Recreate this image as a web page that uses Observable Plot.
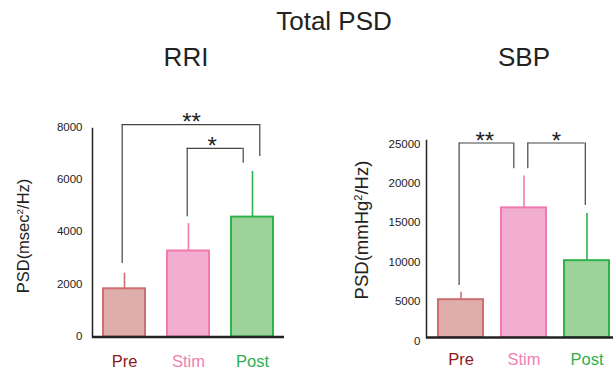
<!DOCTYPE html>
<html><head><meta charset="utf-8">
<script src="https://cdn.jsdelivr.net/npm/d3@7"></script>
<script src="https://cdn.jsdelivr.net/npm/@observablehq/plot@0.6"></script>
<style>
html,body{margin:0;padding:0;background:#fff;overflow:hidden;}
#wrap{position:relative;width:613px;height:369px;overflow:hidden;font-family:"Liberation Sans",Arial,sans-serif;color:#222;}
#wrap svg{max-width:none !important;}
.t{position:absolute;font-size:26px;line-height:26px;white-space:nowrap;transform:translateX(-50%);}
.yl{position:absolute;white-space:nowrap;line-height:1;transform:translate(-50%,-50%) rotate(-90deg);}
.yl sup{font-size:0.6em;vertical-align:0.55em;line-height:0;}
.p{position:absolute;top:0;}
</style></head><body>
<div id="wrap">
  <div class="t" style="left:334px;top:8px">Total PSD</div>
  <div class="t" style="left:186px;top:44px">RRI</div>
  <div class="t" style="left:524px;top:44px">SBP</div>
  <div class="yl" style="left:23px;top:236px;font-size:16.5px">PSD(msec<sup>2</sup>/Hz)</div>
  <div class="yl" style="left:362px;top:230px;font-size:18.5px">PSD(mmHg<sup>2</sup>/Hz)</div>
  <div class="p" id="left" style="left:0px;width:300px"></div>
  <div class="p" id="right" style="left:300px;width:321px"></div>
</div>
<script>
const categories = ["Pre", "Stim", "Post"];
const rriMean = [1850, 3300, 4600];
const rriErrTop = [2450, 4350, 6350];
const sbpMean = [4800, 16450, 9750];
const sbpErrTop = [5750, 20500, 15750];
const rriTicks = [0, 2000, 4000, 6000, 8000];
const sbpTicks = [0, 5000, 10000, 15000, 20000, 25000];
const rriBrackets = [
  {from: "Pre", to: "Post", top: 8150, fromLow: 2820, toLow: 6930, label: "**"},
  {from: "Stim", to: "Post", top: 7240, fromLow: 4615, toLow: 6665, label: "*"}
];
const sbpBrackets = [
  {from: "Pre", to: "Stim", top: 24680, fromLow: 6600, toLow: 21410, label: "**"},
  {from: "Stim", to: "Post", top: 24680, fromLow: 21410, toLow: 16750, label: "*"}
];

const barFill = ["#e0aeaa", "#f2aed0", "#9dd29b"];
const barStroke = ["#cd6f6f", "#f07aad", "#2fb24b"];
const labelColor = ["#8b1a1a", "#f07fb5", "#2eb04f"];

function rowsOf(mean, err) {
  return categories.map((c, i) => ({cat: c, mean: mean[i], err: err[i], fill: barFill[i], stroke: barStroke[i], lab: labelColor[i]}));
}

function bracketMarks(b, g) {
  const st = {stroke: "#444", strokeWidth: 1.2};
  return [
    Plot.ruleX([b], {x: "from", y1: "fromLow", y2: "top", dx: g.dxFrom, ...st}),
    Plot.ruleX([b], {x: "to", y1: "toLow", y2: "top", dx: g.dxTo, ...st}),
    Plot.ruleY([b], {y: "top", x1: "from", x2: "to", insetLeft: g.insetLeft, insetRight: g.insetRight, ...st}),
    Plot.text([b], {x: "to", y: "top", text: "label", dx: g.dxStar, dy: -2, fontSize: 24, fill: "#222"})
  ];
}

function panel(rows, ticks, brackets, geo, opt) {
  return Plot.plot({
    width: opt.width,
    height: 369,
    marginLeft: opt.marginLeft,
    marginRight: opt.marginRight,
    marginTop: opt.marginTop,
    marginBottom: opt.marginBottom,
    style: {fontFamily: "'Liberation Sans', Arial, sans-serif", background: "transparent", overflow: "visible", maxWidth: "none"},
    x: {domain: categories, paddingInner: opt.pIn, paddingOuter: opt.pOut, axis: null},
    y: {domain: [0, ticks[ticks.length - 1]]},
    color: {type: "identity"},
    marks: [
      Plot.barY(rows, {x: "cat", y: "mean", fill: "fill", stroke: "stroke", strokeWidth: 2}),
      Plot.ruleX(rows, {x: "cat", y1: "mean", y2: "err", stroke: "stroke", strokeWidth: 1.6}),
      Plot.axisY(ticks, {tickSize: 0, tickPadding: opt.tickPad, fontSize: 11.5, fill: "#222", dy: opt.tickDy, label: null, tickFormat: d => `${d}`}),
      Plot.frame({anchor: "left", stroke: "#222", strokeWidth: 1.5}),
      Plot.ruleY([0], {stroke: "#222", strokeWidth: 2.4}),
      ...brackets.flatMap((b, i) => bracketMarks(b, geo[i])),
      Plot.text(rows, {x: "cat", text: "cat", fill: "lab", frameAnchor: "bottom", lineAnchor: "middle", dy: opt.labDy, fontSize: 16.5})
    ]
  });
}

document.getElementById("left").append(panel(
  rowsOf(rriMean, rriErrTop), rriTicks, rriBrackets,
  [
    {dxFrom: -2.3, dxTo: 7.3, insetLeft: 18.8, insetRight: 13.8, dxStar: -61},
    {dxFrom: -1.3, dxTo: -9.3, insetLeft: 19.8, insetRight: 30.4, dxStar: -40.3}
  ],
  {width: 300, marginLeft: 92, marginRight: 16, marginTop: 128, marginBottom: 32.5, pIn: 0.34, pOut: 0.17, tickPad: 10, tickDy: -1, labDy: 24.5}
));

document.getElementById("right").append(panel(
  rowsOf(sbpMean, sbpErrTop), sbpTicks, sbpBrackets,
  [
    {dxFrom: -1.9, dxTo: -10.2, insetLeft: 20.8, insetRight: 32.9, dxStar: -39.2},
    {dxFrom: 3.8, dxTo: -1.7, insetLeft: 26.5, insetRight: 24.4, dxStar: -30.7}
  ],
  {width: 321, marginLeft: 126, marginRight: 0, marginTop: 140, marginBottom: 32, pIn: 0.29, pOut: 0.17, tickPad: 6, tickDy: 3.5, labDy: 22.3}
));
</script>
</body></html>
